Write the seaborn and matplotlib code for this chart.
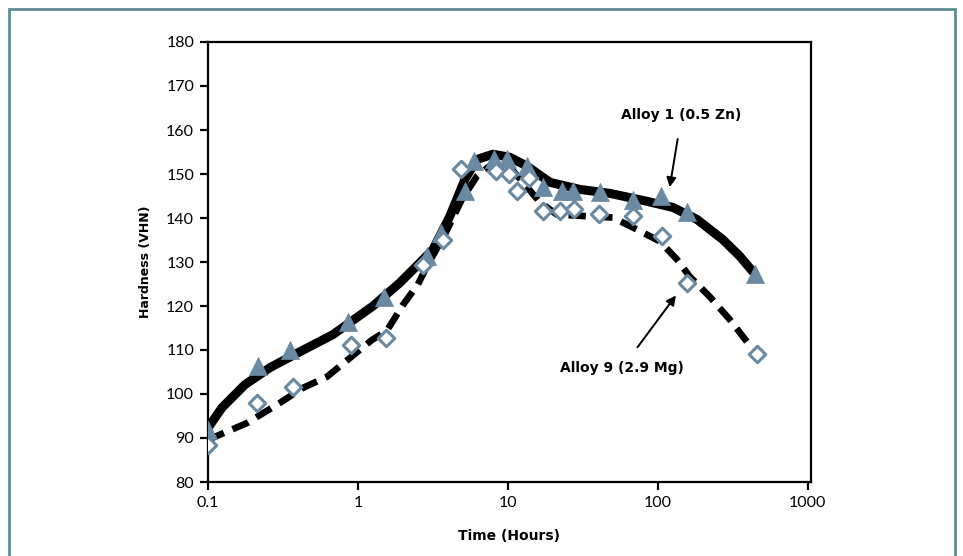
import matplotlib
matplotlib.use("Agg")
import matplotlib.pyplot as plt
import matplotlib.patches as mpatches
import seaborn as sns
import pandas as pd

# ---- data ----
alloy1_t = [0.1, 0.215, 0.352, 0.858, 1.49, 2.88, 3.6, 5.17, 5.93, 8.07, 9.85, 13.4, 17.1, 22.9, 27.1, 41, 68, 105, 156, 443]
alloy1_h = [91.8, 106.4, 110.1, 116.4, 122.1, 131.3, 136.5, 146.1, 152.9, 153.3, 153.3, 151.8, 147.0, 146.1, 146.1, 145.8, 144.2, 144.9, 141.3, 127.2]

alloy9_t = [0.1, 0.212, 0.369, 0.898, 1.54, 2.71, 3.69, 4.86, 8.32, 10.2, 11.5, 13.8, 17.1, 22.2, 27.5, 40.4, 68.1, 106, 156, 457]
alloy9_h = [88.4, 98.0, 101.6, 111.2, 112.8, 129.4, 134.9, 151.1, 150.6, 149.9, 146.1, 149.2, 141.7, 141.5, 142.0, 140.8, 140.4, 136.0, 125.3, 109.2]

# fitted curves as drawn in the reference
curve1_t = [0.1, 0.124, 0.176, 0.259, 0.41, 0.681, 1.26, 1.905, 3.16, 4.1, 5.17, 6.21, 7.94, 10.3, 13.4, 19.1, 30.2, 47.9, 84.5, 126, 182, 271, 352, 430]
curve1_h = [92.3, 96.9, 102.1, 106.0, 109.6, 113.5, 120.0, 125.3, 132.8, 140.4, 148.8, 153.3, 154.5, 153.8, 151.8, 148.1, 146.5, 145.6, 143.8, 142.4, 139.7, 135.1, 131.3, 127.8]

curve9_t = [0.1, 0.182, 0.302, 0.43, 0.621, 0.885, 1.24, 1.56, 2.0, 2.51, 2.88, 3.8, 4.93, 6.21, 8.0, 10.3, 13.0, 16.3, 21.2, 33.6, 50.1, 72.4, 103, 134, 163, 222, 302, 392]
curve9_h = [89.6, 93.4, 98.0, 101.4, 103.9, 108.2, 112.3, 114.4, 120.3, 124.9, 129.0, 136.3, 144.2, 149.5, 152.5, 151.5, 147.6, 143.6, 140.8, 140.4, 140.1, 137.4, 134.7, 130.6, 126.7, 122.1, 116.9, 111.9]

x_ticks = [0.1, 1, 10, 100, 1000]
x_ticklabels = ["0.1", "1", "10", "100", "1000"]
y_ticks = list(range(80, 181, 10))

label1 = "Alloy 1 (0.5 Zn)"
label9 = "Alloy 9 (2.9 Mg)"

pts1 = pd.DataFrame({"t": alloy1_t, "h": alloy1_h})
pts9 = pd.DataFrame({"t": alloy9_t, "h": alloy9_h})
cur1 = pd.DataFrame({"t": curve1_t, "h": curve1_h})
cur9 = pd.DataFrame({"t": curve9_t, "h": curve9_h})

sns.set_style("white")
plt.rcParams["font.family"] = ["Lato", "DejaVu Sans"]
plt.rcParams["text.color"] = "black"
plt.rcParams["axes.labelcolor"] = "black"
bold_font = ["DejaVu Sans"]

marker_color = "#6a89a3"

fig = plt.figure(figsize=(9.63, 5.56), dpi=100)
ax = fig.add_axes([208 / 963, 1 - 482 / 556, (811 - 208) / 963, (482 - 42) / 556])
ax.set_xscale("log")

sns.lineplot(data=cur1, x="t", y="h", ax=ax, color="black", linewidth=6.5,
             estimator=None, sort=False, zorder=2)
sns.lineplot(data=cur9, x="t", y="h", ax=ax, color="black", linewidth=4.8,
             estimator=None, sort=False, zorder=2)
ax.lines[-1].set_dashes([2.6, 1.4])
ax.lines[-1].set_dash_capstyle("butt")

sns.scatterplot(data=pts1, x="t", y="h", ax=ax, marker="^", s=170,
                color=marker_color, edgecolor=marker_color, linewidth=0.5, zorder=3)
sns.scatterplot(data=pts9, x="t", y="h", ax=ax, marker="D", s=70,
                facecolor="white", edgecolor=marker_color, linewidth=2.2, zorder=4)

ax.set_xlim(0.1, 1050)
ax.set_ylim(80, 180)
ax.set_xticks(x_ticks)
ax.set_xticklabels(x_ticklabels)
ax.minorticks_off()
ax.set_yticks(y_ticks)

for sp in ax.spines.values():
    sp.set_color("black")
    sp.set_linewidth(1.6)

ax.tick_params(axis="both", direction="out", length=6, width=1.6, colors="black",
               labelsize=11.5, pad=4, bottom=True, left=True)

ax.set_xlabel("Time (Hours)", fontsize=10, fontweight="bold", family=bold_font,
              color="black", labelpad=14)
ax.set_ylabel("Hardness (VHN)", fontsize=9, fontweight="bold", family=bold_font,
              color="black", labelpad=10)

ax.annotate(label1, xy=(120, 147.0), xytext=(144, 163.4), ha="center", va="center",
            fontsize=10, fontweight="bold", family=bold_font, color="black",
            arrowprops=dict(arrowstyle="-|>", color="black", lw=1.4,
                            shrinkA=10, shrinkB=0, mutation_scale=14))
ax.annotate(label9, xy=(132, 122.4), xytext=(58, 106.0), ha="center", va="center",
            fontsize=10, fontweight="bold", family=bold_font, color="black",
            arrowprops=dict(arrowstyle="-|>", color="black", lw=1.4,
                            shrinkA=9, shrinkB=0, mutation_scale=14))

border = mpatches.Rectangle((9 / 963, -0.1), (955 - 9) / 963, 1 - 9 / 556 + 0.1,
                            transform=fig.transFigure, fill=False,
                            edgecolor="#5f8c96", linewidth=2)
fig.patches.append(border)

fig.savefig("out.png", dpi=100)
